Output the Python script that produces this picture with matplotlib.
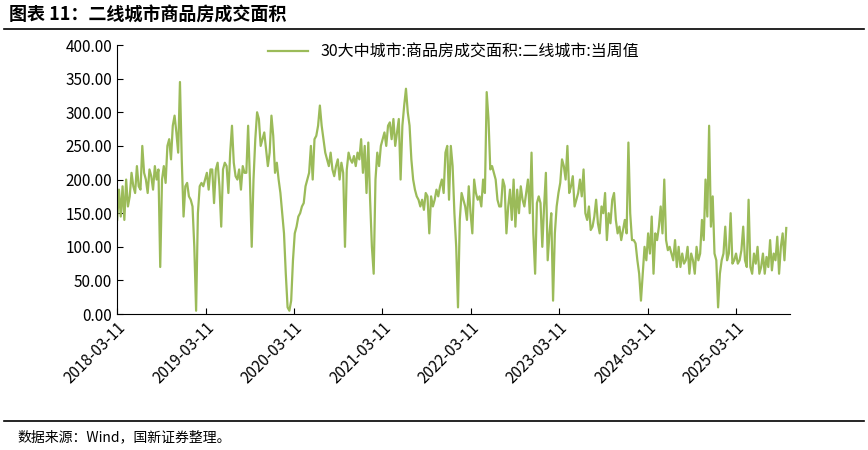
import numpy as np
import pandas as pd
import matplotlib.pyplot as plt
import matplotlib.dates as mdates
from matplotlib.ticker import FormatStrFormatter

plt.rcParams['font.family'] = ['Noto Sans CJK SC', 'DejaVu Sans']

# --- DATA (read by eye, weekly) ---
y2018 = [140, 185, 145, 190, 140, 200, 160, 175, 210, 190, 180, 220, 190, 185, 250, 210, 200, 180,
         215, 205, 185, 220, 200, 215, 70, 200, 220, 195, 250, 260, 230, 280, 295, 270, 240, 345,
         230, 145, 190, 195, 175, 170, 160, 100, 5, 150, 190, 195, 190, 200, 210, 185]
y2019 = [215, 215, 165, 215, 225, 190, 130, 215, 225, 220, 180, 240, 280, 225, 205, 200, 215, 185,
         220, 210, 210, 280, 200, 100, 200, 260, 300, 290, 250, 260, 270, 245, 220, 240, 295, 265,
         210, 225, 200, 180, 150, 120, 60, 10, 5, 20, 80, 120, 130, 145, 150, 160]
y2020 = [165, 190, 200, 210, 250, 200, 260, 265, 280, 310, 280, 260, 240, 230, 220, 240, 215, 205,
         220, 230, 200, 225, 210, 100, 215, 240, 230, 225, 235, 220, 240, 230, 260, 210, 250, 180,
         255, 170, 100, 60, 200, 240, 220, 250, 260, 270, 250, 280, 285, 260, 290, 250]
y2021 = [270, 290, 200, 280, 310, 335, 300, 280, 230, 200, 185, 175, 170, 160, 170, 155, 180, 175,
         120, 175, 160, 170, 185, 175, 190, 200, 180, 240, 250, 170, 250, 220, 150, 100, 10, 140,
         180, 170, 160, 140, 190, 150, 120, 200, 180, 170, 175, 160, 200, 180, 330, 290]
y2022 = [215, 220, 210, 200, 170, 160, 160, 200, 190, 120, 160, 185, 140, 200, 130, 185, 150, 190,
         170, 160, 180, 200, 150, 240, 120, 60, 165, 175, 165, 100, 160, 210, 80, 120, 150, 20,
         120, 160, 180, 195, 230, 220, 200, 250, 180, 190, 205, 160, 170, 180, 200, 175]
y2023 = [215, 150, 140, 160, 125, 130, 145, 170, 135, 120, 160, 150, 180, 110, 150, 135, 170, 180,
         140, 120, 130, 110, 125, 140, 120, 255, 150, 110, 110, 105, 80, 60, 20, 60, 100, 80,
         120, 90, 145, 60, 120, 110, 130, 160, 120, 200, 110, 95, 100, 90, 80, 110]
y2024 = [70, 100, 70, 90, 75, 80, 100, 60, 90, 80, 60, 100, 80, 90, 140, 110, 200, 145,
         280, 130, 175, 90, 80, 10, 60, 80, 90, 130, 80, 90, 150, 75, 80, 90, 75, 80,
         95, 130, 80, 70, 170, 70, 60, 90, 75, 100, 60, 70, 90, 60, 85, 70]
y2025 = [110, 65, 90, 80, 115, 60, 100, 120, 80, 128]
values = y2018 + y2019 + y2020 + y2021 + y2022 + y2023 + y2024 + y2025
dates = pd.date_range("2018-03-11", "2025-10-05", periods=len(values))
tick_dates = pd.to_datetime([f"{y}-03-11" for y in range(2018, 2026)])

label = "30大中城市:商品房成交面积:二线城市:当周值"

fig = plt.figure(figsize=(8.68, 4.5), dpi=100)
ax = fig.add_axes([0.135, 0.302, 0.775, 0.598])
ax.plot(dates, values, color="#9BBB59", lw=1.6, label=label)
ax.set_ylim(0, 400)
ax.set_yticks(np.arange(0, 401, 50))
ax.yaxis.set_major_formatter(FormatStrFormatter("%.2f"))
ax.set_xlim(pd.Timestamp("2018-03-11"), pd.Timestamp("2025-10-20"))
ax.set_xticks(tick_dates)
ax.xaxis.set_major_formatter(mdates.DateFormatter("%Y-%m-%d"))
plt.setp(ax.get_xticklabels(), rotation=45, ha="right", rotation_mode="anchor")
ax.tick_params(labelsize=11, direction="in", length=4)
for s in ["top", "right"]:
    ax.spines[s].set_visible(False)
ax.legend(loc="upper center", bbox_to_anchor=(0.5, 1.06), frameon=False, fontsize=11.5, handlelength=2.5)

fig.text(0.01, 0.955, "图表 11：二线城市商品房成交面积", fontsize=13, fontweight="bold", style="italic")
fig.add_artist(plt.Line2D([0.005, 0.995], [0.935, 0.935], color="black", lw=1.2))
fig.add_artist(plt.Line2D([0.005, 0.995], [0.065, 0.065], color="black", lw=1.2))
fig.text(0.02, 0.02, "数据来源：Wind，国新证券整理。", fontsize=10)

fig.savefig("out.png", dpi=100)
